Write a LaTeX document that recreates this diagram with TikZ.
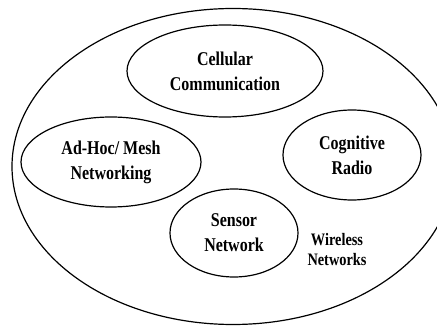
\documentclass[tikz,border=0pt]{standalone}
\usepackage{fontspec}
\setmainfont[FakeStretch=0.82]{Liberation Serif}
\usepackage{tikz}
\usetikzlibrary{shapes.geometric}

\tikzset{
  area/.style={ellipse, draw, line width=1.2pt, inner sep=0pt, align=center,
    font=\bfseries\fontsize{19.5}{25}\selectfont},
  tag/.style={align=center, font=\bfseries\fontsize{17.5}{20}\selectfont}
}

\begin{document}
\begin{tikzpicture}
	[x=1pt, y=1pt]
   \useasboundingbox (0,0) rectangle (437,327);
   \clip (0,0) rectangle (437,327);
   % outer region
   \node[area, minimum width=442pt, minimum height=316pt] (wireless) at (233,160.5) {};
   % inner technologies
   \node[area, minimum width=196pt, minimum height=92pt] (cellular) at (225,256) {Cellular\\Communication};
   \node[area, minimum width=180pt, minimum height=90pt] (adhoc) at (111,165) {Ad-Hoc/ Mesh\\Networking};
   \node[area, minimum width=138pt, minimum height=90pt] (cognitive) at (352,172) {Cognitive\\Radio};
   \node[area, minimum width=128pt, minimum height=88pt] (sensor) at (234,94) {Sensor\\Network};
   \node[tag] (wlabel) at (337,77) {Wireless\\Networks};
\end{tikzpicture}
\end{document}
